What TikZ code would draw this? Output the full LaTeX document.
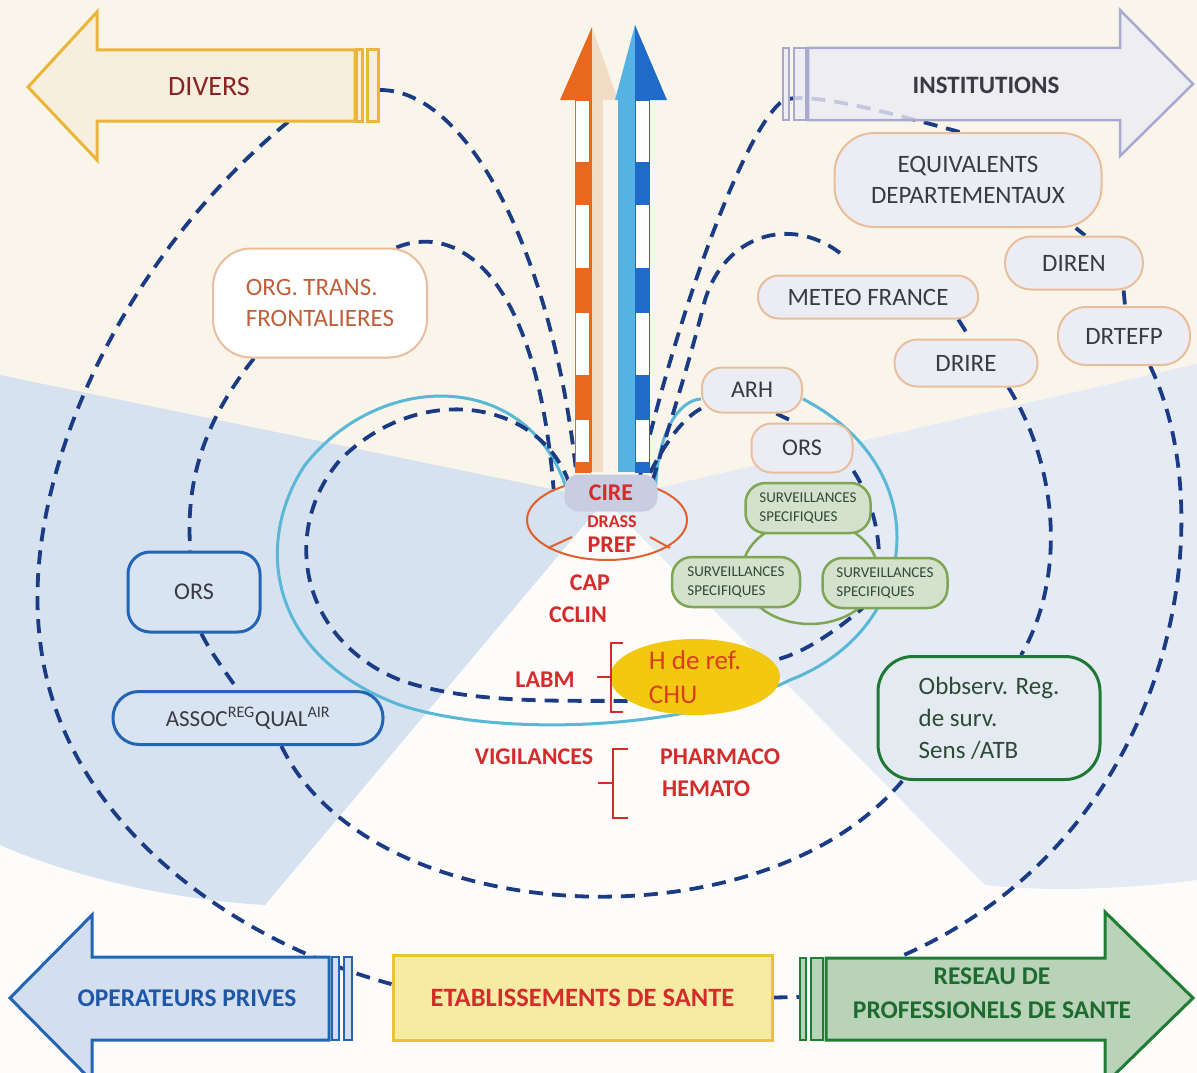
\documentclass[tikz,border=0pt]{standalone}
\usepackage{fontspec}
\setmainfont{Carlito}
\usetikzlibrary{shapes.geometric}
\pgfdeclarelayer{bg}
\pgfdeclarelayer{lines}
\pgfsetlayers{bg,lines,main}
\definecolor{navy}{HTML}{1B3B85}
\definecolor{cyanl}{HTML}{5AB7D6}
\definecolor{tanb}{HTML}{E8BE9C}
\definecolor{lav}{HTML}{ECECF4}
\definecolor{darkg}{HTML}{3A3A42}
\definecolor{redt}{HTML}{D42B2B}
\definecolor{orgtxt}{HTML}{C0603A}
\definecolor{survb}{HTML}{7FA653}
\definecolor{survf}{HTML}{D4E1CD}
\definecolor{survt}{HTML}{2F4A35}
\definecolor{blueb}{HTML}{2464B4}
\definecolor{bluef}{HTML}{D8E4F1}
\definecolor{greenb}{HTML}{207834}
\definecolor{obsf}{HTML}{E3EBF1}
\definecolor{obst}{HTML}{2E4A36}
\definecolor{cireor}{HTML}{E0602E}
\definecolor{cirebox}{HTML}{C9CDE2}
\definecolor{yel}{HTML}{F2C810}
\definecolor{htxt}{HTML}{D9401A}
\definecolor{orangeA}{HTML}{E8691E}
\definecolor{beigeA}{HTML}{F2DCC5}
\definecolor{lblueA}{HTML}{55B3E3}
\definecolor{dblueA}{HTML}{1E6CC8}
\definecolor{divf}{HTML}{F8EEDD}
\definecolor{divb}{HTML}{E9B63A}
\definecolor{divt}{HTML}{8B2222}
\definecolor{instf}{HTML}{ECECF5}
\definecolor{instb}{HTML}{A9A9CF}
\definecolor{opf}{HTML}{D3DFEE}
\definecolor{opt}{HTML}{1F57A8}
\definecolor{resf}{HTML}{B9D3B8}
\definecolor{resb}{HTML}{1F7D34}
\definecolor{rest}{HTML}{1E6B30}
\definecolor{etf}{HTML}{F7EBA3}
\definecolor{etb}{HTML}{EBC531}
\definecolor{bgbase}{HTML}{FDFCFA}
\definecolor{bgtop}{HTML}{FAF5EA}
\definecolor{bgleft}{HTML}{D6E2EF}
\definecolor{bgright}{HTML}{E4EBF4}
\tikzset{
  dl/.style={draw=navy, line width=3.8pt, dash pattern=on 14pt off 9pt},
  cyanline/.style={draw=cyanl, line width=3pt},
  instbox/.style={draw=tanb, line width=2pt, fill=lav, inner sep=0pt, text=darkg,
    font=\fontsize{25}{31}\selectfont, align=center},
  survbox/.style={draw=survb, line width=2.5pt, fill=survf, inner sep=0pt, text=survt,
    rounded corners=20pt, minimum width=125pt, minimum height=50pt,
    font=\fontsize{15}{19}\selectfont, align=left},
  bluebox/.style={draw=blueb, line width=3pt, fill=bluef, inner sep=0pt, text=darkg},
  redlab/.style={text=redt, font=\bfseries\fontsize{24}{28}\selectfont, inner sep=0pt},
  brk/.style={draw=redt, line width=2.5pt},
  arrowlab/.style={inner sep=0pt, align=center}
}
\begin{document}
\begin{tikzpicture}[x=1pt,y=-1pt]
\clip (0,0) rectangle (1197,1073);
% background
\begin{pgfonlayer}{bg}
\fill[bgbase] (0,0) rectangle (1197,1073);
\fill[bgtop] (0,0) -- (1197,0) -- (1197,364) -- (605,500) -- (0,375) -- cycle;
\fill[bgleft] (605,500) -- (0,375) -- (0,845) .. controls (80,880) and (180,900) .. (265,905) -- cycle;
\fill[bgright] (605,500) -- (1197,364) -- (1197,880) .. controls (1100,892) and (1030,890) .. (985,885) -- cycle;
\end{pgfonlayer}

% coordinates for arrow ends
\coordinate (divEnd) at (380,90);
\coordinate (divBot) at (288,122);
\coordinate (instEnd) at (784,100);
\coordinate (meteoC) at (840,253);
\coordinate (resTop) at (897,958);
\coordinate (resL) at (800,997);

% CIRE ellipse
\node[draw=cireor, line width=2pt, ellipse, minimum width=160pt, minimum height=80pt, inner sep=0pt] (cireell) at (607,520) {};

% boxes
\node[instbox, minimum width=267pt, minimum height=94pt, rounded corners=40pt] (equiv) at (968,180) {EQUIVALENTS\\DEPARTEMENTAUX};
\node[instbox, minimum width=138pt, minimum height=53pt, rounded corners=26pt] (diren) at (1074,263) {DIREN};
\node[instbox, minimum width=220pt, minimum height=43pt, rounded corners=21pt] (meteo) at (868,297) {METEO FRANCE};
\node[instbox, minimum width=143pt, minimum height=47pt, rounded corners=23pt] (drire) at (966,363) {DRIRE};
\node[instbox, minimum width=132pt, minimum height=58pt, rounded corners=28pt] (drtefp) at (1124,336) {DRTEFP};
\node[instbox, minimum width=100pt, minimum height=45pt, rounded corners=20pt, font=\fontsize{24}{28}\selectfont] (arh) at (752,390) {ARH};
\node[instbox, minimum width=101pt, minimum height=49pt, rounded corners=20pt, font=\fontsize{24}{28}\selectfont] (orsR) at (802,448) {ORS};
\node[instbox, fill=white, text=orgtxt, align=left, minimum width=214pt, minimum height=109pt, rounded corners=38pt] (orgtrans) at (320,303) {ORG. TRANS.\\FRONTALIERES};
\node[bluebox, minimum width=132pt, minimum height=80pt, rounded corners=22pt, font=\fontsize{24}{28}\selectfont] (orsL) at (194,592) {ORS};
\node[bluebox, minimum width=270pt, minimum height=53pt, rounded corners=26pt, font=\fontsize{23}{28}\selectfont] (assoc) at (248,718) {ASSOC\textsuperscript{REG}QUAL\textsuperscript{AIR}};
\node[draw=greenb, line width=3pt, fill=obsf, inner sep=0pt, text=obst, rounded corners=35pt, minimum width=222pt, minimum height=123pt, align=left, font=\fontsize{25}{32}\selectfont] (obs) at (989,718) {Obbserv. Reg.\\de surv.\\Sens /ATB};
\node[draw=etb, line width=3pt, fill=etf, minimum width=379pt, minimum height=85pt, inner sep=0pt, text=redt, font=\bfseries\fontsize{26.5}{30}\selectfont] (etab) at (582.5,997.5) {ETABLISSEMENTS DE SANTE};

% surveillance group
\node[draw=survb, line width=2.5pt, ellipse, minimum width=136pt, minimum height=104pt, inner sep=0pt] (survring) at (810,572) {};
\node[survbox] (survT) at (808,508) {SURVEILLANCES\\SPECIFIQUES};
\node[survbox, minimum width=128pt] (survL) at (736,582) {SURVEILLANCES\\SPECIFIQUES};
\node[survbox] (survR) at (885,583) {SURVEILLANCES\\SPECIFIQUES};

% H de ref ellipse
\node[ellipse, fill=yel, minimum width=170pt, minimum height=76pt, inner sep=0pt, text=htxt, align=left, font=\fontsize{27}{34}\selectfont] (hchu) at (695,677) {H de ref.\\CHU};

% connectors (under the boxes)
\begin{pgfonlayer}{lines}
\draw[cyanline] (cireell.140) .. controls (525,370) and (380,370) .. (305,465)
   .. controls (255,540) and (265,655) .. (400,705)
   .. controls (500,738) and (690,730) .. (790,680)
   .. controls (920,630) and (940,470) .. (arh.-10);
\draw[cyanline] (arh.190) .. controls (680,400) and (658,430) .. (cireell.34);
\draw[dl] (divBot) .. controls (120,260) and (20,480) .. (40,640) .. controls (60,820) and (230,940) .. (etab.176);
\draw[dl] (divEnd) .. controls (470,90) and (555,260) .. (cireell.128);
\draw[dl] (orgtrans.36) .. controls (450,225) and (535,260) .. (cireell.150);
\draw[dl] (orgtrans.220) .. controls (205,420) and (185,480) .. (orsL.95);
\draw[dl] (orsL.-80) .. controls (212,655) and (228,675) .. (assoc.110);
\draw[dl] (assoc.-40) .. controls (370,930) and (760,950) .. (obs.-144);
\draw[dl] (cireell.136) .. controls (540,400) and (420,380) .. (340,460)
   .. controls (280,530) and (300,640) .. (400,680)
   .. controls (470,705) and (570,700) .. (hchu.200);
\draw[dl] (arh.200) .. controls (680,420) and (662,448) .. (cireell.44);
\draw[dl] (arh.-44) -- (orsR.106);
\draw[dl] (orsR.-24) .. controls (885,520) and (888,590) .. (858,612) .. controls (830,635) and (800,655) .. (hchu.12);
\draw[dl] (equiv.100) .. controls (880,110) and (810,92) .. (instEnd) .. controls (745,125) and (675,320) .. (cireell.50);
\draw[dl] (meteoC) .. controls (790,215) and (725,235) .. (705,300) .. controls (690,360) and (668,430) .. (cireell.38);
\draw[dl] (equiv.-24) -- (diren.68);
\draw[dl] (diren.-29) -- (drtefp.88);
\draw[dl] (meteo.-14.4) -- (drire.80);
\draw[dl] (drire.-30) .. controls (1060,470) and (1065,580) .. (obs.63);
\draw[dl] (drtefp.-49) .. controls (1225,520) and (1175,840) .. (resTop);
\draw[dl] (etab.east) -- (resL);
\end{pgfonlayer}

% CIRE group
\node[fill=cirebox, rounded corners=14pt, minimum width=93pt, minimum height=37pt, inner sep=0pt, text=redt, font=\bfseries\fontsize{24}{28}\selectfont] (cire) at (611,493) {CIRE};
\node[redlab, font=\bfseries\fontsize{18}{22}\selectfont] (drass) at (612,522) {DRASS};
\node[redlab] (pref) at (612,545) {PREF};
\draw[draw=cireor, line width=2pt] (548,548) -- (572,537);
\draw[draw=cireor, line width=2pt] (650,537) -- (670,548);
\node[redlab] (cap) at (590,583) {CAP};
\node[redlab] (cclin) at (578,615) {CCLIN};
\node[redlab] (labm) at (545,680) {LABM};
\node[redlab] (vigil) at (534,757) {VIGILANCES};
\node[redlab, anchor=west] (pharma) at (660,757) {PHARMACO};
\node[redlab, anchor=west] (hemato) at (662,789) {HEMATO};
\draw[brk] (623,643) -- (611,643) -- (611,712) -- (623,712);
\draw[brk] (611,677) -- (597,677);
\draw[brk] (628,749) -- (613,749) -- (613,818) -- (628,818);
\draw[brk] (613,783) -- (598,783);

% vertical arrows
\fill[orangeA] (560,100) -- (592,27) -- (592,100) -- cycle;
\fill[beigeA] (592,27) -- (618,100) -- (592,100) -- cycle;
\fill[beigeA] (590,100) rectangle (603,472);
\draw[orangeA, line width=1pt, fill=white] (575.5,100) rectangle (590,472);
\foreach \a/\b in {162/205, 268/313, 375/420, 462/472} {
  \fill[orangeA] (575,\a) rectangle (590,\b);
}
\fill[orangeA] (589,100) rectangle (592,472);
\fill[lblueA] (615,100) -- (635,25) -- (635,100) -- cycle;
\fill[dblueA] (635,25) -- (667,100) -- (635,100) -- cycle;
\fill[lblueA] (618,100) rectangle (635,472);
\draw[dblueA, line width=1pt, fill=white] (635,100) rectangle (649.5,472);
\foreach \a/\b in {162/205, 268/313, 375/420, 462/472} {
  \fill[dblueA] (635,\a) rectangle (650,\b);
}

% DIVERS arrow
\draw[draw=divb, line width=3pt, fill=divf] (28,87) -- (97,12) -- (97,50) -- (355,50) -- (355,121) -- (97,121) -- (97,160) -- cycle;
\draw[draw=divb, line width=3pt, fill=divf] (356,50) rectangle (362,121);
\draw[draw=divb, line width=3pt, fill=divf] (367,50) rectangle (378,121);
\node[arrowlab, text=divt, font=\fontsize{28}{32}\selectfont] (divers) at (209,87) {DIVERS};

% INSTITUTIONS arrow
\draw[draw=instb, line width=2.5pt, fill=instf, fill opacity=0.8] (808,48) -- (1120,48) -- (1120,10) -- (1193,84) -- (1120,156) -- (1120,120) -- (808,120) -- cycle;
\draw[draw=instb, line width=2.5pt, fill=instf, fill opacity=0.8] (783,48) rectangle (789,120);
\draw[draw=instb, line width=2.5pt, fill=instf, fill opacity=0.8] (794,48) rectangle (806,120);
\node[arrowlab, text=darkg, font=\bfseries\fontsize{25}{30}\selectfont] (inst) at (986,85) {INSTITUTIONS};

% OPERATEURS PRIVES arrow
\draw[draw=blueb, line width=3pt, fill=opf] (10,998) -- (92,915) -- (92,957) -- (329,957) -- (329,1040) -- (92,1040) -- (92,1081) -- cycle;
\draw[draw=blueb, line width=2.5pt, fill=opf] (332,957) rectangle (339,1040);
\draw[draw=blueb, line width=2.5pt, fill=opf] (344,957) rectangle (352,1040);
\node[arrowlab, text=opt, font=\bfseries\fontsize{25.5}{30}\selectfont] (oper) at (187,998) {OPERATEURS PRIVES};

% RESEAU arrow
\draw[draw=resb, line width=3pt, fill=resf] (826,958) -- (1105,958) -- (1105,912) -- (1193,998) -- (1105,1084) -- (1105,1040) -- (826,1040) -- cycle;
\draw[draw=resb, line width=2.5pt, fill=resf] (800,958) rectangle (806,1040);
\draw[draw=resb, line width=2.5pt, fill=resf] (811,958) rectangle (823,1040);
\node[arrowlab, text=rest, font=\bfseries\fontsize{25.5}{34}\selectfont] (reseau) at (992,993) {RESEAU DE\\PROFESSIONELS DE SANTE};
\end{tikzpicture}
\end{document}
